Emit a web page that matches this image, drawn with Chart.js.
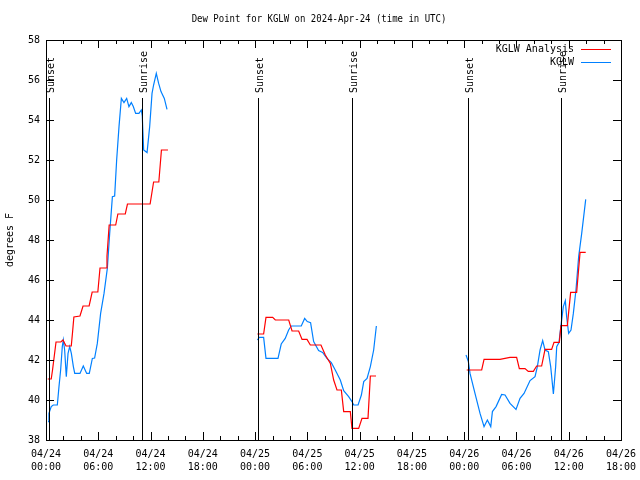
<!DOCTYPE html>
<html>
<head>
<meta charset="utf-8">
<script src="https://cdn.jsdelivr.net/npm/chart.js@4.4.1/dist/chart.umd.min.js"></script>
<style>
  html, body { margin: 0; padding: 0; background: #fff; }
  #wrap { width: 640px; height: 480px; }
</style>
</head>
<body>
<div id="wrap"><canvas id="dewChart" width="640" height="480"></canvas></div>
<script>
// hours since 04/24 00:00 UTC, null breaks the line between days
const analysisHours = [0.2, 0.6, 0.75, 0.95, 1.15, 1.7, 1.95, 2.3, 2.9, 3.05, 3.2, 3.9, 4.25, 4.95, 5.3, 5.95, 6.2, 6.9, 7.0, 7.25, 8.0, 8.25, 9.1, 9.35, 11.95, 12.35, 12.95, 13.25, 14.0,
  19,
  24.26, 24.98, 25.25, 26.02, 26.32, 27.86, 28.24, 29.0, 29.39, 29.96, 30.34, 31.56, 32.06, 32.64, 33.02, 33.4, 33.9, 34.17, 34.93, 35.12, 35.89, 36.27, 36.96, 37.23, 37.88,
  43,
  48.29, 50.01, 50.28, 52.11, 53.26, 54.02, 54.33, 54.98, 55.36, 55.94, 56.32, 56.89, 57.28, 58.04, 58.31, 58.92, 59.11, 59.84, 60.22, 60.91, 61.3, 61.95];
const analysisDew = [41.05, 41.05, 41.5, 42.2, 42.9, 42.9, 43.0, 42.7, 42.7, 43.4, 44.15, 44.2, 44.7, 44.7, 45.4, 45.4, 46.6, 46.6, 47.2, 48.75, 48.75, 49.3, 49.3, 49.8, 49.8, 50.9, 50.9, 52.5, 52.5,
  null,
  43.3, 43.3, 44.13, 44.13, 44.0, 44.0, 43.45, 43.45, 43.03, 43.03, 42.75, 42.75, 42.25, 41.83, 41.0, 40.5, 40.5, 39.42, 39.42, 38.58, 38.58, 39.08, 39.08, 41.2, 41.2,
  null,
  41.5, 41.5, 42.03, 42.03, 42.13, 42.13, 41.57, 41.57, 41.43, 41.43, 41.7, 41.7, 42.53, 42.53, 42.88, 42.88, 43.72, 43.72, 45.38, 45.38, 47.38, 47.38];

const obsHours = [0.23, 0.34, 0.6, 0.84, 1.3, 1.49, 1.68, 1.87, 1.99, 2.14, 2.33, 2.53, 2.72, 2.91, 3.14, 3.3, 3.9, 4.28, 4.67, 4.97, 5.32, 5.58, 5.89, 6.27, 6.66, 7.04, 7.31, 7.62, 7.88, 8.11, 8.38, 8.65, 8.95, 9.26, 9.52, 9.79, 10.02, 10.29, 10.67, 10.94, 11.05, 11.21, 11.6, 11.9, 12.17, 12.35, 12.66, 12.93, 13.2, 13.58, 13.89,
  19,
  24.26, 24.49, 24.98, 25.25, 26.63, 27.0, 27.46, 27.85, 28.15, 29.3, 29.69, 29.99, 30.37, 30.72, 31.29, 31.75, 32.25, 32.75, 33.2, 33.78, 34.17, 34.74, 35.12, 35.32, 35.82, 36.2, 36.47, 36.85, 37.23, 37.61, 37.92,
  43,
  48.21, 48.48, 48.67, 49.24, 49.82, 50.28, 50.66, 51.05, 51.24, 51.66, 52.3, 52.69, 53.26, 53.95, 54.41, 54.87, 55.56, 56.13, 56.4, 56.71, 57.01, 57.28, 57.66, 57.93, 58.24, 58.5, 58.62, 58.88, 59.07, 59.38, 59.61, 59.76, 59.99, 60.26, 60.53, 60.83, 61.14, 61.49, 61.95];
const obsDew = [38.92, 39.33, 39.67, 39.75, 39.75, 40.67, 41.5, 42.67, 43.0, 42.5, 41.17, 42.33, 42.67, 42.33, 41.67, 41.33, 41.33, 41.7, 41.33, 41.33, 42.08, 42.1, 42.83, 44.33, 45.33, 46.58, 48.33, 50.17, 50.2, 52.0, 53.67, 55.08, 54.87, 55.08, 54.67, 54.87, 54.67, 54.33, 54.33, 54.5, 54.2, 52.5, 52.37, 53.67, 55.33, 55.75, 56.33, 55.83, 55.42, 55.08, 54.53,
  null,
  43.0, 43.13, 43.13, 42.08, 42.08, 42.8, 43.08, 43.5, 43.7, 43.7, 44.08, 43.92, 43.87, 42.92, 42.47, 42.38, 42.08, 41.87, 41.5, 41.0, 40.47, 40.17, 39.92, 39.75, 39.75, 40.25, 40.92, 41.08, 41.67, 42.5, 43.7,
  null,
  42.25, 41.92, 41.33, 40.33, 39.33, 38.67, 39.0, 38.67, 39.42, 39.67, 40.28, 40.25, 39.83, 39.53, 40.08, 40.33, 40.97, 41.17, 41.67, 42.5, 42.97, 42.5, 42.42, 41.67, 40.3, 41.67, 42.67, 42.87, 43.58, 44.67, 44.97, 44.17, 43.33, 43.5, 44.33, 45.5, 47.17, 48.33, 50.03];

const sunHours = [0.38, 11.06, 24.3, 35.1, 48.45, 59.1];
const sunLabels = ['Sunset', 'Sunrise', 'Sunset', 'Sunrise', 'Sunset', 'Sunrise'];

const tickDays = ['04/24', '04/24', '04/24', '04/24', '04/25', '04/25', '04/25', '04/25', '04/26', '04/26', '04/26', '04/26'];
const tickTimes = ['00:00', '06:00', '12:00', '18:00', '00:00', '06:00', '12:00', '18:00', '00:00', '06:00', '12:00', '18:00'];

const FONT = 'DejaVu Sans Mono';
Chart.defaults.font.family = FONT;
Chart.defaults.font.size = 10;
Chart.defaults.color = '#000';

function toPoints(xs, ys) {
    return xs.map((x, i) => ({ x: x, y: ys[i] }));
}

// gnuplot style frame, ticks, sun lines, legend and titles
const gnuFrame = {
    id: 'gnuFrame',
    afterDatasetsDraw(chart) {
        const c = chart.ctx;
        const a = chart.chartArea;
        const xs = chart.scales.x, ys = chart.scales.y;
        c.save();
        c.strokeStyle = '#000';
        c.fillStyle = '#000';
        c.lineWidth = 1;

        // sunrise / sunset
        sunHours.forEach((h, i) => {
            const px = Math.round(xs.getPixelForValue(h)) + 0.5;
            c.beginPath();
            c.moveTo(px, a.top + 58);
            c.lineTo(px, a.bottom);
            c.stroke();
            c.save();
            c.translate(px + 2, a.top + 53);
            c.rotate(-Math.PI / 2);
            c.font = '10px ' + FONT;
            c.textAlign = 'left';
            c.textBaseline = 'middle';
            c.fillText(sunLabels[i], 0, 0);
            c.restore();
        });

        // frame
        c.strokeRect(Math.round(a.left) + 0.5, Math.round(a.top) + 0.5,
            Math.round(a.right - a.left), Math.round(a.bottom - a.top));

        // y ticks
        c.beginPath();
        for (let v = ys.min; v <= ys.max; v += 2) {
            const py = Math.round(ys.getPixelForValue(v)) + 0.5;
            c.moveTo(a.left, py); c.lineTo(a.left + 8, py);
            c.moveTo(a.right, py); c.lineTo(a.right - 8, py);
        }
        // x ticks, major every 6h, minor every 2h
        for (let h = xs.min; h <= xs.max; h += 2) {
            const px = Math.round(xs.getPixelForValue(h)) + 0.5;
            const len = (h % 6 === 0) ? 8 : 4;
            c.moveTo(px, a.bottom); c.lineTo(px, a.bottom - len);
            c.moveTo(px, a.top); c.lineTo(px, a.top + len);
        }
        c.stroke();

        // legend
        c.font = '10px ' + FONT;
        c.textAlign = 'right';
        c.textBaseline = 'middle';
        chart.data.datasets.forEach((ds, i) => {
            const ly = a.top + 9 + i * 13;
            c.fillText(ds.label, 574, ly);
            c.strokeStyle = ds.borderColor;
            c.beginPath();
            c.moveTo(581, ly + 0.5);
            c.lineTo(611, ly + 0.5);
            c.stroke();
        });

        // titles
        c.fillStyle = '#000';
        c.textAlign = 'center';
        c.save();
        c.translate(319, 19);
        c.scale(0.9, 1);
        c.fillText('Dew Point for KGLW on 2024-Apr-24 (time in UTC)', 0, 0);
        c.restore();
        c.save();
        c.translate(10, 240);
        c.rotate(-Math.PI / 2);
        c.fillText('degrees F', 0, 0);
        c.restore();
        c.restore();
    }
};

const ctx = document.getElementById('dewChart').getContext('2d');
const dewChart = new Chart(ctx, {
    type: 'line',
    data: {
        datasets: [{
            label: 'KGLW Analysis',
            data: toPoints(analysisHours, analysisDew),
            borderColor: '#ff0000',
            borderWidth: 1.2,
            pointRadius: 0,
            tension: 0,
            spanGaps: false
        }, {
            label: 'KGLW',
            data: toPoints(obsHours, obsDew),
            borderColor: '#0080ff',
            borderWidth: 1.2,
            pointRadius: 0,
            tension: 0,
            spanGaps: false
        }]
    },
    options: {
        responsive: false,
        animation: false,
        events: [],
        layout: { padding: { left: 0, top: 40, right: 19, bottom: 0 } },
        plugins: { legend: { display: false }, tooltip: { enabled: false } },
        scales: {
            x: {
                type: 'linear',
                min: 0,
                max: 66,
                grid: { display: false, drawTicks: false },
                border: { display: false },
                afterFit: (s) => { s.height = 40; s.paddingLeft = 0; s.paddingRight = 0; },
                afterBuildTicks: (s) => {
                    s.ticks = tickDays.map((d, i) => ({ value: i * 6 }));
                },
                ticks: {
                    autoSkip: false,
                    maxRotation: 0,
                    padding: 8,
                    font: { size: 10, lineHeight: 1.3 },
                    callback: (v) => [tickDays[v / 6], tickTimes[v / 6]]
                }
            },
            y: {
                min: 38,
                max: 58,
                grid: { display: false, drawTicks: false },
                border: { display: false },
                afterFit: (s) => { s.width = 46; },
                ticks: { stepSize: 2, padding: 6, font: { size: 10 } }
            }
        }
    },
    plugins: [gnuFrame]
});
</script>
</body>
</html>
